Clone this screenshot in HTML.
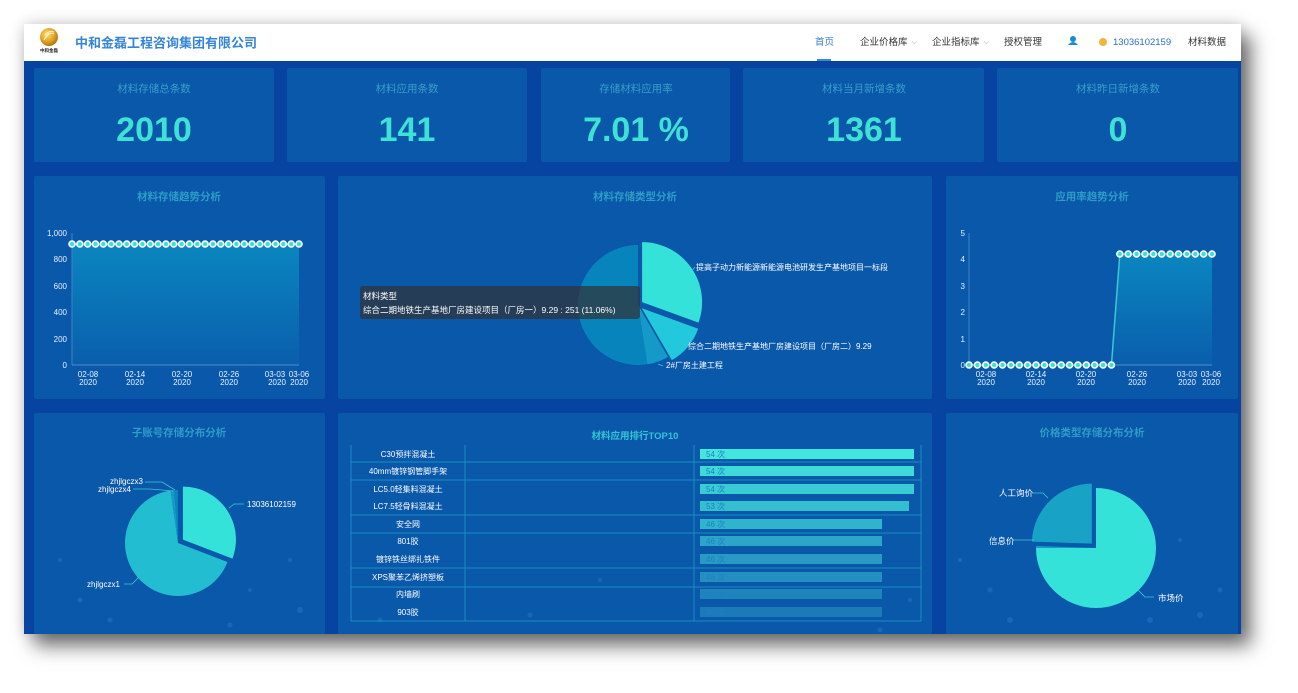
<!DOCTYPE html>
<html><head><meta charset="utf-8">
<style>
html,body{margin:0;padding:0;background:#fff;width:1298px;height:693px;overflow:hidden;}
#dash{position:absolute;left:24px;top:24px;width:1217px;height:610px;background:#0743a0;box-shadow:10px 12px 18px rgba(0,0,0,0.55),0 0 14px rgba(0,0,0,0.18);}
svg{position:absolute;left:0;top:0;}
text{font-family:"Liberation Sans","Noto Sans CJK SC",sans-serif;}
</style></head><body>
<div id="dash"></div>
<svg width="1298" height="693" viewBox="0 0 1298 693" xmlns="http://www.w3.org/2000/svg">
<defs>
<linearGradient id="area" x1="0" y1="0" x2="0" y2="1">
<stop offset="0" stop-color="#0a86c0"/><stop offset="1" stop-color="#0a5eac"/></linearGradient>
<radialGradient id="gold" cx="0.4" cy="0.35" r="0.7">
<stop offset="0" stop-color="#ffe07a"/><stop offset="0.6" stop-color="#e0a020"/><stop offset="1" stop-color="#a86a10"/></radialGradient>
</defs>

<!-- header -->
<rect x="24" y="24" width="1217" height="37" fill="#ffffff"/>
<circle cx="49" cy="37" r="9" fill="url(#gold)"/>
<path d="M44 40 q5 -9 10 -6 M45 35 q4 -5 9 -3" stroke="#fff3c0" stroke-width="1.2" fill="none"/>
<text x="49" y="52" font-size="4.5" text-anchor="middle" fill="#222" font-weight="bold">中和金磊</text>
<text x="75" y="47.5" font-size="13" font-weight="bold" fill="#3584d6">中和金磊工程咨询集团有限公司</text>
<g font-size="9.5" fill="#333">
<text x="815" y="45" fill="#3a7fcc">首页</text>
<rect x="817" y="59" width="14" height="2" fill="#3a8ad8"/>
<text x="860" y="45">企业价格库</text><text x="912" y="44" font-size="7" fill="#999">⌵</text>
<text x="932" y="45">企业指标库</text><text x="984" y="44" font-size="7" fill="#999">⌵</text>
<text x="1004" y="45">授权管理</text>
<text x="1113" y="45" fill="#2a6fd0">13036102159</text>
<text x="1188" y="45">材料数据</text>
</g>
<circle cx="1073" cy="39" r="3" fill="#1a8ad8"/><path d="M1068 45 q5 -6 10 0 z" fill="#1a8ad8"/>
<circle cx="1103" cy="42" r="4" fill="#f2b53a"/>

<!-- top cards -->
<g fill="#0958aa">
<rect x="34" y="68" width="240" height="94" rx="2"/>
<rect x="287" y="68" width="240" height="94" rx="2"/>
<rect x="541" y="68" width="189" height="94" rx="2"/>
<rect x="743" y="68" width="241" height="94" rx="2"/>
<rect x="997" y="68" width="241" height="94" rx="2"/>
</g>
<g font-size="10.5" fill="#3d9cc8" text-anchor="middle">
<text x="154" y="92">材料存储总条数</text>
<text x="407" y="92">材料应用条数</text>
<text x="636" y="92">存储材料应用率</text>
<text x="864" y="92">材料当月新增条数</text>
<text x="1118" y="92">材料昨日新增条数</text>
</g>
<g font-size="34" font-weight="bold" fill="#3fe0d6" text-anchor="middle">
<text x="154" y="141">2010</text>
<text x="407" y="141">141</text>
<text x="636" y="141">7.01 %</text>
<text x="864" y="141">1361</text>
<text x="1118" y="141">0</text>
</g>

<!-- panels -->
<g fill="#0958aa">
<rect x="34" y="176" width="291" height="223" rx="2"/>
<rect x="338" y="176" width="594" height="223" rx="2"/>
<rect x="946" y="176" width="292" height="223" rx="2"/>
<rect x="34" y="413" width="291" height="221" rx="2"/>
<rect x="338" y="413" width="594" height="221" rx="2"/>
<rect x="946" y="413" width="292" height="221" rx="2"/>
</g>

<!-- faint particle dots in row 3 -->
<g fill="#1a6cc0" opacity="0.8">
<circle cx="60" cy="560" r="2"/><circle cx="80" cy="600" r="2.5"/><circle cx="250" cy="590" r="2"/><circle cx="290" cy="560" r="2"/><circle cx="300" cy="610" r="3"/><circle cx="110" cy="620" r="2.5"/><circle cx="230" cy="625" r="2.5"/>
<circle cx="960" cy="560" r="2"/><circle cx="1010" cy="620" r="3"/><circle cx="1180" cy="540" r="2"/><circle cx="1220" cy="590" r="2.5"/><circle cx="1200" cy="615" r="3"/><circle cx="1150" cy="620" r="3"/><circle cx="990" cy="590" r="2.5"/>
<circle cx="380" cy="620" r="2.5"/><circle cx="530" cy="615" r="2.5"/><circle cx="600" cy="580" r="2"/><circle cx="880" cy="630" r="2.5"/><circle cx="910" cy="600" r="2"/><circle cx="720" cy="595" r="2.5"/>
</g>

<!-- titles -->
<g font-size="10.5" font-weight="bold" fill="#2e9dc6" text-anchor="middle">
<text x="179" y="200">材料存储趋势分析</text>
<text x="635" y="200">材料存储类型分析</text>
<text x="1092" y="200">应用率趋势分析</text>
<text x="179" y="436">子账号存储分布分析</text>
<text x="635" y="439" font-size="9.5" fill="#34c4d6">材料应用排行TOP10</text>
<text x="1092" y="436">价格类型存储分布分析</text>
</g>

<!-- chart 1 -->
<rect x="72" y="244" width="227" height="121" fill="url(#area)"/>
<line x1="72" y1="233" x2="72" y2="365" stroke="#3f82c8" stroke-width="1"/>
<line x1="72" y1="365" x2="299" y2="365" stroke="#4a90d0" stroke-width="1"/>
<g font-size="8" fill="#e8f2ff" text-anchor="end">
<text x="67" y="236">1,000</text><text x="67" y="262">800</text><text x="67" y="289">600</text><text x="67" y="315">400</text><text x="67" y="342">200</text><text x="67" y="368">0</text>
</g>
<g font-size="8" fill="#e8f2ff" text-anchor="middle">
<text x="88" y="377">02-08</text><text x="88" y="385">2020</text>
<text x="135" y="377">02-14</text><text x="135" y="385">2020</text>
<text x="182" y="377">02-20</text><text x="182" y="385">2020</text>
<text x="229" y="377">02-26</text><text x="229" y="385">2020</text>
<text x="275" y="377">03-03</text><text x="277" y="385">2020</text>
<text x="299" y="377">03-06</text><text x="299" y="385">2020</text>
</g>
<line x1="72" y1="244" x2="299" y2="244" stroke="#dff" stroke-width="1"/>
<g fill="#3ee0d6" stroke="#ffffff" stroke-width="1.6">
<circle cx="72" cy="244" r="3"/><circle cx="79.83" cy="244" r="3"/><circle cx="87.66" cy="244" r="3"/><circle cx="95.48" cy="244" r="3"/><circle cx="103.31" cy="244" r="3"/><circle cx="111.14" cy="244" r="3"/><circle cx="118.97" cy="244" r="3"/><circle cx="126.8" cy="244" r="3"/><circle cx="134.62" cy="244" r="3"/><circle cx="142.45" cy="244" r="3"/><circle cx="150.28" cy="244" r="3"/><circle cx="158.11" cy="244" r="3"/><circle cx="165.94" cy="244" r="3"/><circle cx="173.76" cy="244" r="3"/><circle cx="181.59" cy="244" r="3"/><circle cx="189.42" cy="244" r="3"/><circle cx="197.25" cy="244" r="3"/><circle cx="205.08" cy="244" r="3"/><circle cx="212.9" cy="244" r="3"/><circle cx="220.73" cy="244" r="3"/><circle cx="228.56" cy="244" r="3"/><circle cx="236.39" cy="244" r="3"/><circle cx="244.22" cy="244" r="3"/><circle cx="252.04" cy="244" r="3"/><circle cx="259.87" cy="244" r="3"/><circle cx="267.7" cy="244" r="3"/><circle cx="275.53" cy="244" r="3"/><circle cx="283.36" cy="244" r="3"/><circle cx="291.18" cy="244" r="3"/><circle cx="299" cy="244" r="3"/>
</g>

<!-- chart 2 -->
<polygon points="1111.44,365 1119.82,254 1212,254 1212,365" fill="url(#area)"/>
<line x1="969" y1="233" x2="969" y2="365" stroke="#3f82c8" stroke-width="1"/>
<line x1="969" y1="365" x2="1212" y2="365" stroke="#4a90d0" stroke-width="1"/>
<g font-size="8" fill="#e8f2ff" text-anchor="end">
<text x="965" y="236">5</text><text x="965" y="262">4</text><text x="965" y="289">3</text><text x="965" y="315">2</text><text x="965" y="342">1</text><text x="965" y="368">0</text>
</g>
<g font-size="8" fill="#e8f2ff" text-anchor="middle">
<text x="986" y="377">02-08</text><text x="986" y="385">2020</text>
<text x="1036" y="377">02-14</text><text x="1036" y="385">2020</text>
<text x="1086" y="377">02-20</text><text x="1086" y="385">2020</text>
<text x="1137" y="377">02-26</text><text x="1137" y="385">2020</text>
<text x="1187" y="377">03-03</text><text x="1187" y="385">2020</text>
<text x="1211" y="377">03-06</text><text x="1211" y="385">2020</text>
</g>
<polyline points="969,365 1111.44,365 1119.82,254 1212,254" fill="none" stroke="#3cc8d4" stroke-width="1.5"/>
<g fill="#3ee0d6" stroke="#ffffff" stroke-width="1.6">
<circle cx="969" cy="365" r="3"/><circle cx="977.38" cy="365" r="3"/><circle cx="985.76" cy="365" r="3"/><circle cx="994.14" cy="365" r="3"/><circle cx="1002.52" cy="365" r="3"/><circle cx="1010.9" cy="365" r="3"/><circle cx="1019.27" cy="365" r="3"/><circle cx="1027.65" cy="365" r="3"/><circle cx="1036.03" cy="365" r="3"/><circle cx="1044.41" cy="365" r="3"/><circle cx="1052.79" cy="365" r="3"/><circle cx="1061.17" cy="365" r="3"/><circle cx="1069.55" cy="365" r="3"/><circle cx="1077.93" cy="365" r="3"/><circle cx="1086.31" cy="365" r="3"/><circle cx="1094.69" cy="365" r="3"/><circle cx="1103.06" cy="365" r="3"/><circle cx="1111.44" cy="365" r="3"/>
<circle cx="1119.82" cy="254" r="3"/><circle cx="1128.2" cy="254" r="3"/><circle cx="1136.58" cy="254" r="3"/><circle cx="1144.96" cy="254" r="3"/><circle cx="1153.34" cy="254" r="3"/><circle cx="1161.72" cy="254" r="3"/><circle cx="1170.1" cy="254" r="3"/><circle cx="1178.48" cy="254" r="3"/><circle cx="1186.86" cy="254" r="3"/><circle cx="1195.23" cy="254" r="3"/><circle cx="1203.61" cy="254" r="3"/><circle cx="1212" cy="254" r="3"/>
</g>

<!-- middle pie -->
<path d="M638,305 L647.39,364.26 A60,60 0 1 1 638,245 Z" fill="#0884bd"/>
<path d="M638,305 L668,356.96 A60,60 0 0 1 647.39,364.26 Z" fill="#1599c8"/>
<path d="M641.83,308.21 L698.21,328.73 A60,60 0 0 1 671.83,360.17 Z" fill="#22c8dc"/>
<path d="M642.1,302.13 L642.1,242.13 A60,60 0 0 1 698.48,322.65 Z" fill="#35e2da"/>
<g stroke="#3cc8d4" stroke-width="0.8" fill="none">
<polyline points="692,271 695,267"/><polyline points="682,343 686,346"/><polyline points="658,364 663,366"/>
</g>
<g font-size="8" fill="#ffffff">
<text x="696" y="270">提高子动力新能源新能源电池研发生产基地项目一标段</text>
<text x="688" y="349">综合二期地铁生产基地厂房建设项目（厂房二）9.29</text>
<text x="666" y="368">2#厂房土建工程</text>
</g>
<rect x="360" y="286" width="280" height="33" rx="3" fill="rgba(50,50,50,0.7)"/>
<g font-size="8.5" fill="#ffffff">
<text x="363" y="299">材料类型</text>
<text x="363" y="313">综合二期地铁生产基地厂房建设项目（厂房一）9.29 : 251 (11.06%)</text>
</g>

<!-- table -->
<g stroke="#1a8cc2" stroke-width="1">
<line x1="351" y1="445" x2="351" y2="621"/><line x1="465" y1="445" x2="465" y2="621"/><line x1="694" y1="445" x2="694" y2="621"/><line x1="921" y1="445" x2="921" y2="621"/>
<line x1="351" y1="462" x2="921" y2="462"/><line x1="351" y1="480" x2="921" y2="480"/><line x1="351" y1="515" x2="921" y2="515"/><line x1="351" y1="533" x2="921" y2="533"/><line x1="351" y1="568" x2="921" y2="568"/><line x1="351" y1="587" x2="921" y2="587"/><line x1="351" y1="621" x2="921" y2="621"/>
</g>
<g font-size="8" fill="#ffffff" text-anchor="middle">
<text x="408" y="457">C30预拌混凝土</text>
<text x="408" y="474">40mm镀锌钢管脚手架</text>
<text x="408" y="492">LC5.0轻集料混凝土</text>
<text x="408" y="509">LC7.5轻骨料混凝土</text>
<text x="408" y="527">安全网</text>
<text x="408" y="544">801胶</text>
<text x="408" y="562">镀锌铁丝绑扎铁件</text>
<text x="408" y="580">XPS聚苯乙烯挤塑板</text>
<text x="408" y="597">内墙刷</text>
<text x="408" y="615">903胶</text>
</g>
<rect x="700" y="449" width="214" height="10" fill="#43e6dc"/>
<rect x="700" y="466" width="214" height="10" fill="#3ed9d8"/>
<rect x="700" y="484" width="214" height="10" fill="#39ccd4"/>
<rect x="700" y="501" width="209" height="10" fill="#34bfd0"/>
<rect x="700" y="519" width="182" height="10" fill="#30b3cc"/>
<rect x="700" y="536" width="182" height="10" fill="#2ca6c8"/>
<rect x="700" y="554" width="182" height="10" fill="#289ac4"/>
<rect x="700" y="572" width="182" height="10" fill="#248fc0"/>
<rect x="700" y="589" width="182" height="10" fill="#2084bc"/>
<rect x="700" y="607" width="182" height="10" fill="#1c7ab8"/>
<g font-size="8" fill="#1f80c4">
<text x="706" y="457">54 次</text><text x="706" y="474">54 次</text><text x="706" y="492">54 次</text><text x="706" y="509">53 次</text><text x="706" y="527">46 次</text><text x="706" y="544">46 次</text><text x="706" y="562">46 次</text><text x="706" y="580">46 次</text><text x="706" y="597">46 次</text><text x="706" y="615">46 次</text>
</g>

<!-- left pie -->
<path d="M178,543 L227.48,562 A53,53 0 1 1 170.62,490.51 Z" fill="#22bdd0"/>
<path d="M178,543 L170.62,490.51 A53,53 0 0 1 174.3,490.13 Z" fill="#1599c8"/>
<path d="M178,543 L174.3,490.13 A53,53 0 0 1 178,490 Z" fill="#0a86be"/>
<path d="M182.94,539.6 L182.94,486.6 A53,53 0 0 1 232.42,558.6 Z" fill="#35e2da"/>
<g stroke="#3cc8d4" stroke-width="0.8" fill="none">
<polyline points="229,508 234,504 244,504"/>
<polyline points="139,577 132,584 124,584"/>
<polyline points="175,490 162,482 145,482"/>
<polyline points="173,491 150,489 133,489"/>
</g>
<g font-size="8" fill="#ffffff">
<text x="247" y="507">13036102159</text>
<text x="87" y="587">zhjlgczx1</text>
<text x="110" y="484">zhjlgczx3</text>
<text x="98" y="492">zhjlgczx4</text>
</g>

<!-- right pie -->
<path d="M1096,548 L1096,488 A60,60 0 1 1 1036,548 Z" fill="#35e2da"/>
<path d="M1096,548 L1036,548 A60,60 0 0 1 1036.04,545.9 Z" fill="#1599c8"/>
<path d="M1091.83,543.68 L1031.87,541.59 A60,60 0 0 1 1091.83,483.68 Z" fill="#17a2c6"/>
<g stroke="#3cc8d4" stroke-width="0.8" fill="none">
<polyline points="1048,498 1043,493 1032,493"/>
<polyline points="1034,540 1014,540"/>
<polyline points="1138,590 1145,597 1154,597"/>
</g>
<g font-size="8.5" fill="#ffffff">
<text x="999" y="496">人工询价</text>
<text x="989" y="544">信息价</text>
<text x="1158" y="601">市场价</text>
</g>
</svg>
</body></html>
